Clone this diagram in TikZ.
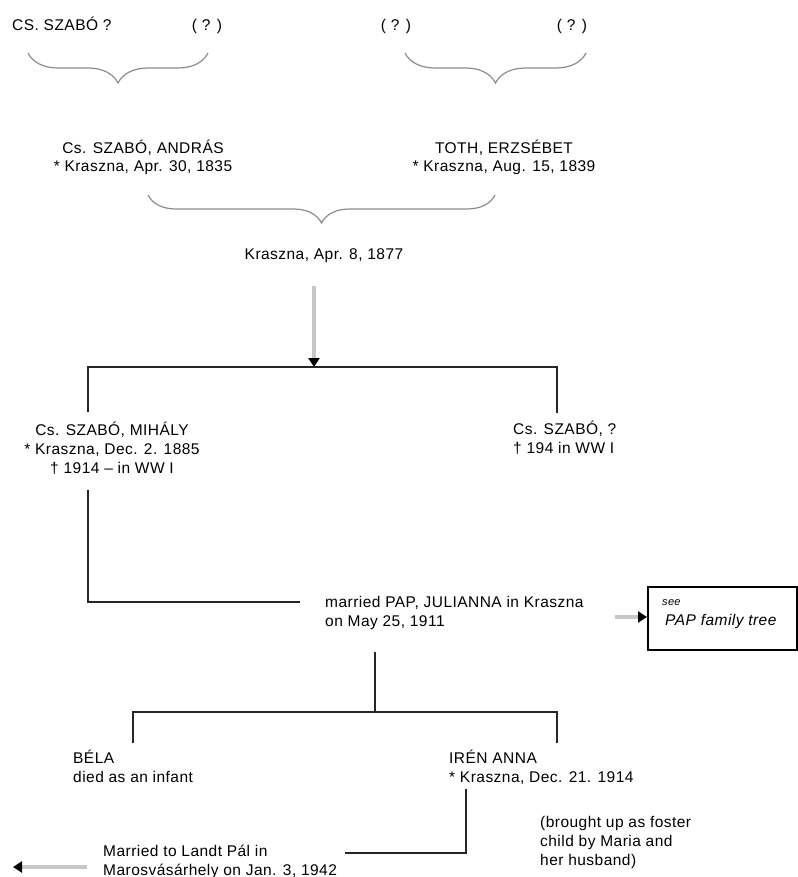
\documentclass[tikz,border=0pt]{standalone}
\usepackage{fontspec}
\setmainfont[LetterSpace=3]{Liberation Sans}
\usetikzlibrary{arrows.meta,decorations.pathreplacing}

\tikzset{
  person/.style={inner sep=0pt, font=\fontsize{15.5}{18.8}\selectfont},
  line/.style={line width=2pt, draw=black!85},
  pair/.style={draw=black!45, line width=1.2pt, decorate,
    decoration={brace, mirror, amplitude=#1}},
  pair/.default=30pt,
  feed/.style={draw=black!22, line width=4pt,
    -{Triangle[color=black, length=9pt, width=11pt]}},
}

\begin{document}
\begin{tikzpicture}[x=1pt, y=-1pt]
    \useasboundingbox (0,0) rectangle (797,877);

    % grandparents
    \node[name=csszabo, person, anchor=base west] at (12,31) {CS. SZABÓ ?};
    \node[name=unknown1, person, anchor=base] at (207,31) {( ? )};
    \node[name=unknown2, person, anchor=base] at (396,31) {( ? )};
    \node[name=unknown3, person, anchor=base] at (572,31) {( ? )};
    \draw[pair] (28,53) -- (208,53);
    \draw[pair] (405,53) -- (586,53);

    % parents (base = last line)
    \node[name=andras, person, align=center, anchor=base] at (143,172)
        {Cs. SZABÓ, ANDRÁS\\* Kraszna, Apr. 30, 1835};
    \node[name=erzsebet, person, align=center, anchor=base] at (504,172)
        {TOTH, ERZSÉBET\\* Kraszna, Aug. 15, 1839};
    \draw[pair=28pt] (148,195) -- (495,195);
    \node[name=wedding, person, anchor=base] at (324,259) {Kraszna, Apr. 8, 1877};

    \coordinate (sons) at (314,367);
    \draw[feed, shorten <=24pt] (wedding.south -| sons) -- (sons);
    \draw[line] (88,412) |- (sons) -| (557,413);

    % sons
    \node[name=mihaly, person, align=center, anchor=base] at (112,473)
        {Cs. SZABÓ, MIHÁLY\\* Kraszna, Dec. 2. 1885\\† 1914 -- in WW I};
    \node[name=brother, person, align=left, anchor=base west] at (513,453)
        {Cs. SZABÓ, ?\\† 194 in WW I};

    \node[name=marriage, person, align=left, anchor=base west] at (325,626)
        {married PAP, JULIANNA in Kraszna\\on May 25, 1911};
    \draw[line] (88,490) |- (300,602);

    \node[name=papbox, draw=black, line width=2pt, anchor=north west,
          minimum width=149pt, minimum height=63pt, inner sep=0pt] at (647,586) {};
    \node[name=see, inner sep=0pt, anchor=base west,
          font=\fontsize{11}{11}\selectfont\itshape] at (662,605) {see};
    \node[name=paptree, person, anchor=base west, font=\fontsize{15.5}{18}\selectfont\itshape]
        at (665,625) {PAP family tree};
    \draw[feed] (615,617) -- (papbox.west |- 0,617);

    % children
    \coordinate (kids) at (375,712);
    \draw[line] (375,652) -- (kids);
    \draw[line] (133,743) |- (kids) -| (557,743);

    \node[name=bela, person, align=left, anchor=base west] at (73,782)
        {BÉLA\\died as an infant};
    \node[name=iren, person, align=left, anchor=base west] at (449,782)
        {IRÉN ANNA\\* Kraszna, Dec. 21. 1914};
    \node[name=foster, person, align=left, anchor=base west] at (540,865)
        {(brought up as foster\\child by Maria and\\her husband)};

    \node[name=landt, person, align=left, anchor=base west] at (103,875)
        {Married to Landt Pál in\\Marosvásárhely on Jan. 3, 1942};
    \draw[line] (466,789) |- (345,853);
    \draw[feed] (87,867) -- (13,867);
\end{tikzpicture}
\end{document}
